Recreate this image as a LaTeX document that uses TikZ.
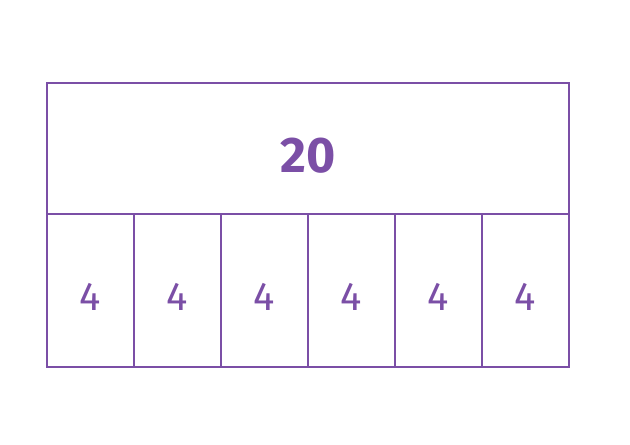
\documentclass[tikz,border=0pt]{standalone}
\usepackage{fontspec}
\setmainfont{Fira Sans}
\usetikzlibrary{positioning}
\definecolor{barpurple}{HTML}{7B4FA6}
\begin{document}
\begin{tikzpicture}[x=1pt,y=-1pt]
\useasboundingbox (0,0) rectangle (630,445);

\def\cellW{87}
\def\ncells{6}
\def\parts{4,4,4,4,4,4}

\tikzset{bar/.style={draw=barpurple,line width=2.2pt,inner sep=0pt,text=barpurple},
  num/.style={text=barpurple,inner sep=0pt}}

% the whole
\node [bar,minimum width={\cellW*\ncells},minimum height=131,anchor=north west] (whole) at (46,82) {};
\node [num,font=\fontsize{50}{50}\selectfont\bfseries,yshift=-7pt] (total) at (whole.center) {20};

% the parts
\foreach \n [count=\ni] in \parts
{
  \node [bar,minimum width=\cellW,minimum height=153,anchor=north west] (part\ni) at ({46+(\ni-1)*\cellW},213) {};
  \node [num,font=\fontsize{40}{40}\selectfont,yshift=-6pt] (val\ni) at (part\ni.center) {\n};
}
\end{tikzpicture}
\end{document}
